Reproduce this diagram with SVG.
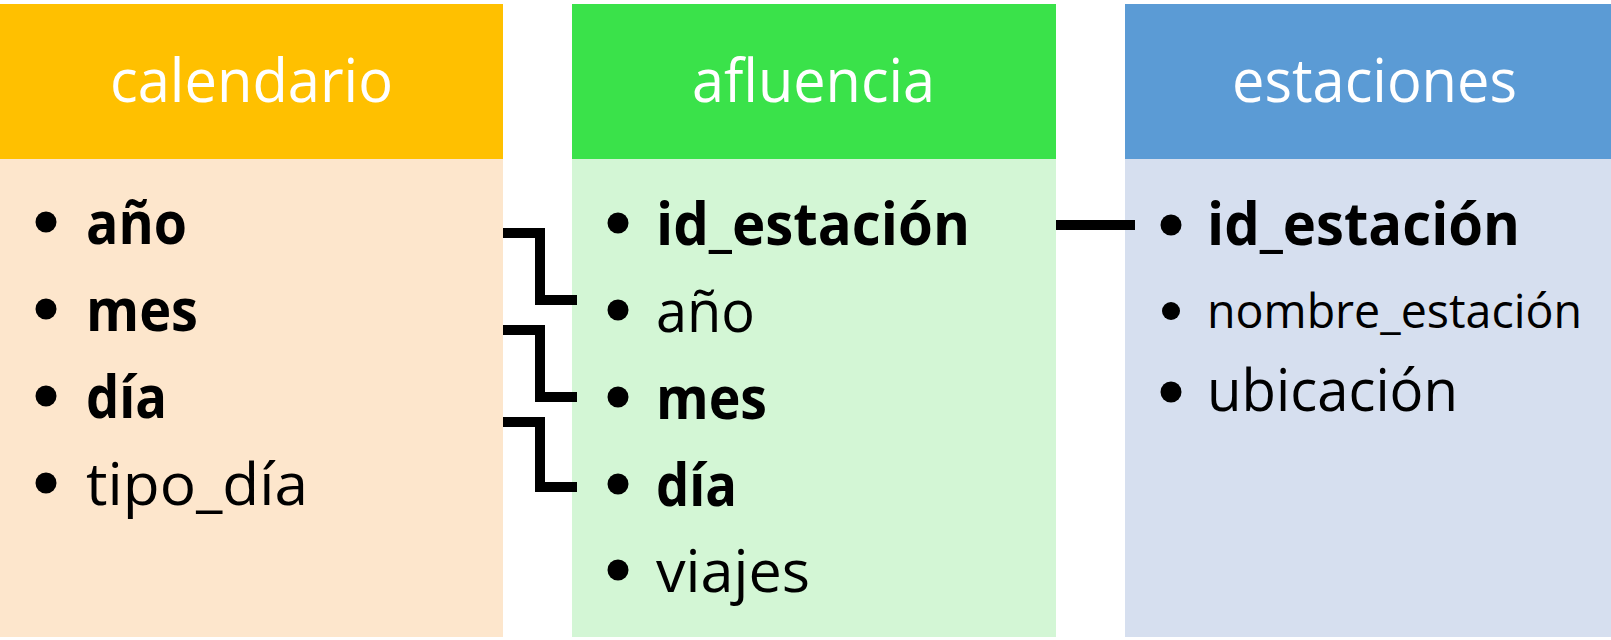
<svg xmlns="http://www.w3.org/2000/svg" width="1611" height="640" viewBox="0 0 1611 640">
<style>
.title{font-family:"Open Sans","Noto Sans","Liberation Sans",sans-serif;font-size:61px;fill:#ffffff}
.item{font-family:"Open Sans","Noto Sans","Liberation Sans",sans-serif;font-size:59px;fill:#000000}
.b{font-weight:bold}
.small{font-size:48px}
.bullet{fill:#000000}
.conn{fill:none;stroke:#000000;stroke-width:10;stroke-linejoin:miter;stroke-linecap:butt}
</style>
<rect x="0" y="0" width="1611" height="640" fill="#ffffff"/>
<g id="calendario">
<rect x="0" y="159" width="503" height="478" fill="#fde6cc"/>
<rect x="0" y="4" width="503" height="155" fill="#ffc000"/>
<text class="title" x="110" y="102" textLength="283" lengthAdjust="spacingAndGlyphs">calendario</text>
<circle class="bullet" cx="46" cy="222" r="10.5"/>
<text class="item b" x="86" y="244" textLength="101" lengthAdjust="spacingAndGlyphs">año</text>
<circle class="bullet" cx="46" cy="309" r="10.5"/>
<text class="item b" x="86" y="331" textLength="112" lengthAdjust="spacingAndGlyphs">mes</text>
<circle class="bullet" cx="46" cy="396" r="10.5"/>
<text class="item b" x="86" y="418" textLength="81" lengthAdjust="spacingAndGlyphs">día</text>
<circle class="bullet" cx="46" cy="483" r="10.5"/>
<text class="item" x="86" y="505" textLength="222" lengthAdjust="spacingAndGlyphs">tipo_día</text>
</g>
<g id="afluencia">
<rect x="572" y="159" width="484" height="478" fill="#d3f6d5"/>
<rect x="572" y="4" width="484" height="155" fill="#3ae24a"/>
<text class="title" x="692" y="102" textLength="243" lengthAdjust="spacingAndGlyphs">afluencia</text>
<circle class="bullet" cx="618" cy="223" r="10.5"/>
<text class="item b" x="656" y="245" textLength="314" lengthAdjust="spacingAndGlyphs">id_estación</text>
<circle class="bullet" cx="618" cy="310" r="10.5"/>
<text class="item" x="656" y="332" textLength="99" lengthAdjust="spacingAndGlyphs">año</text>
<circle class="bullet" cx="618" cy="397" r="10.5"/>
<text class="item b" x="656" y="419" textLength="111" lengthAdjust="spacingAndGlyphs">mes</text>
<circle class="bullet" cx="618" cy="484" r="10.5"/>
<text class="item b" x="656" y="506" textLength="81" lengthAdjust="spacingAndGlyphs">día</text>
<circle class="bullet" cx="618" cy="570" r="10.5"/>
<text class="item" x="656" y="592" textLength="154" lengthAdjust="spacingAndGlyphs">viajes</text>
</g>
<g id="estaciones">
<rect x="1125" y="159" width="486" height="478" fill="#d6dfef"/>
<rect x="1125" y="4" width="486" height="155" fill="#5b9bd5"/>
<text class="title" x="1232" y="102" textLength="285" lengthAdjust="spacingAndGlyphs">estaciones</text>
<circle class="bullet" cx="1171" cy="225" r="10.5"/>
<text class="item b" x="1207" y="245" textLength="313" lengthAdjust="spacingAndGlyphs">id_estación</text>
<circle class="bullet" cx="1171" cy="311" r="9"/>
<text class="item small" x="1207" y="328" textLength="375" lengthAdjust="spacingAndGlyphs">nombre_estación</text>
<circle class="bullet" cx="1171" cy="392" r="10.5"/>
<text class="item" x="1207" y="411" textLength="251" lengthAdjust="spacingAndGlyphs">ubicación</text>
</g>
<g id="connectors">
<path class="conn" d="M503,233 H540 V300 H577"/>
<path class="conn" d="M503,330 H540 V397 H577"/>
<path class="conn" d="M503,422 H540 V487 H577"/>
<path class="conn" d="M1056,225 H1135"/>
</g>
</svg>
